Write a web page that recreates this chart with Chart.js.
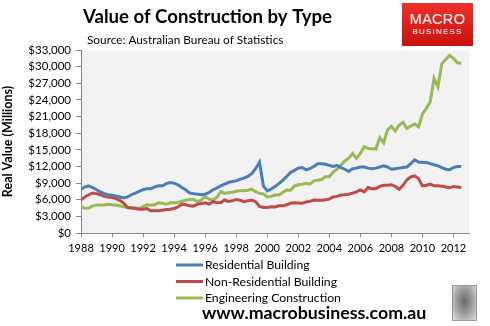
<!DOCTYPE html>
<html>
<head>
<meta charset="utf-8">
<title>Value of Construction by Type</title>
<script src="https://cdn.jsdelivr.net/npm/chart.js@4.4.0/dist/chart.umd.min.js"></script>
<style>
  body { margin: 0; background: #fff; }
  #wrap { position: relative; width: 490px; height: 326px; overflow: hidden; }
  #chart { position: absolute; left: 0; top: 0; }
  .logo {
    position: absolute; left: 402px; top: 3px; width: 71px; height: 43px;
    background: linear-gradient(#f0302a, #c8120f);
    color: #fff; font-family: "Liberation Sans", Arial, sans-serif; text-align: center;
  }
  .logo .l1 { display: block; font-size: 14.5px; line-height: 15px; margin-top: 9px; letter-spacing: 0.3px; }
  .logo .l2 { display: block; font-size: 8px; line-height: 10px; letter-spacing: 1.2px; }
  .wolf {
    position: absolute; left: 452px; top: 285px; width: 23px; height: 34px;
    border: 1px solid #9a9a9a;
    background: radial-gradient(ellipse at 50% 45%, #6a6a6a 0%, #9a9a9a 45%, #e0e0e0 100%);
  }
</style>
</head>
<body>
<div id="wrap">
  <canvas id="chart" width="490" height="326"></canvas>
  <div class="logo"><span class="l1">MACRO</span><span class="l2">BUSINESS</span></div>
  <div class="wolf"></div>
</div>
<script>
// quarterly series, first quarter = 1988, $ millions (real)
const startYear = 1988;

const residential = [
  7900, 8300, 8500, 8200,   // 1988
  7800, 7400, 7100, 6900,   // 1989
  6800, 6700, 6500, 6300,   // 1990
  6500, 6900, 7200, 7500,   // 1991
  7800, 8000, 8000, 8300,   // 1992
  8500, 8500, 8900, 9100,   // 1993
  9000, 8700, 8200, 7800,   // 1994
  7200, 7100, 7000, 6900,   // 1995
  7000, 7300, 7800, 8100,   // 1996
  8500, 8800, 9100, 9300,   // 1997
  9400, 9700, 9900, 10200,  // 1998
  10700, 11600, 12800, 8500, // 1999
  7600, 7900, 8400, 8900,   // 2000
  9500, 10200, 10900, 11300, // 2001
  11700, 11800, 11400, 11600, // 2002
  12000, 12500, 12500, 12400, // 2003
  12200, 12000, 12200, 11800, // 2004
  11500, 11100, 11600, 11700, // 2005
  11900, 11900, 11700, 11600, // 2006
  11700, 11900, 12100, 11900, // 2007
  11500, 11600, 11700, 11800, // 2008
  11900, 12500, 13200, 12800, // 2009
  12700, 12700, 12500, 12300, // 2010
  12100, 11800, 11500, 11400, // 2011
  11800, 12000, 12000         // 2012
];

const nonResidential = [
  6000, 6500, 6900, 7200,
  7100, 6900, 6600, 6500,
  6400, 6200, 5900, 5400,
  4600, 4500, 4400, 4300,
  4300, 4400, 4000, 4000,
  4000, 4100, 4250, 4300,
  4400, 4700, 5200, 5100,
  4900, 4850, 5200, 5300,
  5450, 5200, 5650, 5500,
  5450, 5950, 5700, 5800,
  6050, 5900, 5650, 5800,
  5950, 5650, 4800, 4600,
  4600, 4750, 4700, 4900,
  4900, 5100, 5350, 5450,
  5400, 5350, 5600, 5700,
  5950, 5900, 5900, 6000,
  6100, 6500, 6600, 6850,
  6900, 7000, 7200, 7400,
  7750, 7400, 8200, 8000,
  8000, 8400, 8600, 8600,
  8700, 8400, 7900, 8600,
  9600, 10100, 10300, 9800,
  8500, 8600, 8800, 8500,
  8500, 8450, 8300, 8150,
  8400, 8300, 8200
];

const engineering = [
  4750, 4450, 4500, 4900,
  5050, 5050, 5050, 5200,
  5100, 5000, 4900, 4750,
  4600, 4550, 4500, 4450,
  4750, 5100, 5000, 5100,
  5450, 5350, 5200, 5450,
  5450, 5500, 5750, 5900,
  6050, 6050, 5650, 5950,
  6550, 6100, 5950, 6400,
  7450, 7150, 7250, 7350,
  7550, 7600, 7600, 7700,
  7900, 7450, 7150, 7050,
  6500, 6600, 6850, 6850,
  7300, 7750, 7700, 8450,
  8700, 8800, 8950, 8800,
  9400, 9500, 9650, 10150,
  10150, 11000, 11500, 12250,
  13000, 13500, 14350, 13450,
  14350, 15550, 15250, 15200,
  15150, 17200, 16250, 18550,
  19250, 18400, 19450, 19950,
  18850, 19300, 19650, 19150,
  21450, 22500, 23650, 27900,
  26350, 30550, 31300, 32050,
  31500, 30700, 30600
];

const seriesNames = ['Residential Building', 'Non-Residential Building', 'Engineering Construction'];
const seriesColors = ['#4a7ebb', '#be4b48', '#98b954'];

const yTicks = { min: 0, max: 33000, step: 3000 };
const xTicks = { min: 1988, max: 2013, step: 2 };

const FONT = 'Lato, "Open Sans", sans-serif';

function toPoints(values) {
  return values.map((v, i) => ({ x: startYear + i / 4, y: v }));
}

// grey plot area + headings, legend and footer text
const decorations = {
  id: 'decorations',
  beforeDraw(chart) {
    const { ctx, chartArea: a } = chart;
    ctx.save();
    ctx.fillStyle = '#f2f2f2';
    ctx.fillRect(a.left, a.top, a.right - a.left, a.bottom - a.top);
    ctx.restore();
  },
  afterDraw(chart) {
    const ctx = chart.ctx;
    ctx.save();
    ctx.fillStyle = '#000';
    ctx.textBaseline = 'alphabetic';
    ctx.font = 'bold 18.6px ' + FONT;
    ctx.fillText('Value of Construction by Type', 83, 23);
    ctx.font = '11.8px ' + FONT;
    ctx.fillText('Source: Australian Bureau of Statistics', 87, 44);

    // legend, stacked
    ctx.font = '12.2px ' + FONT;
    ctx.textBaseline = 'middle';
    chart.data.datasets.forEach((ds, i) => {
      const y = 265 + i * 16.5;
      ctx.strokeStyle = ds.borderColor;
      ctx.lineWidth = 3;
      ctx.beginPath();
      ctx.moveTo(176, y);
      ctx.lineTo(203, y);
      ctx.stroke();
      ctx.fillStyle = '#000';
      ctx.fillText(ds.label, 205, y + 0.5);
    });

    ctx.font = 'bold 17.8px ' + FONT;
    ctx.fillText('www.macrobusiness.com.au', 202, 313);
    ctx.restore();
  }
};

const ctx = document.getElementById('chart').getContext('2d');
new Chart(ctx, {
  type: 'line',
  data: {
    datasets: [residential, nonResidential, engineering].map((vals, i) => ({
      label: seriesNames[i],
      data: toPoints(vals),
      borderColor: seriesColors[i],
      backgroundColor: seriesColors[i],
      borderWidth: 3,
      pointRadius: 0,
      tension: 0,
      fill: false
    }))
  },
  options: {
    responsive: false,
    animation: false,
    layout: { padding: { top: 50, right: 21, bottom: 70, left: 0 } },
    plugins: {
      legend: { display: false },
      tooltip: { enabled: false }
    },
    scales: {
      x: {
        type: 'linear',
        min: xTicks.min,
        max: xTicks.max,
        afterFit(scale) { scale.height = 23; },
        border: { color: '#868686' },
        grid: { drawOnChartArea: false, drawTicks: true, tickLength: 4, color: '#868686' },
        ticks: {
          stepSize: xTicks.step,
          includeBounds: false,
          maxRotation: 0,
          autoSkip: false,
          padding: 5,
          color: '#000',
          font: { family: FONT, size: 11 },
          callback: v => String(v)
        }
      },
      y: {
        min: yTicks.min,
        max: yTicks.max,
        afterFit(scale) { scale.width = 81; },
        border: { color: '#868686' },
        grid: { drawOnChartArea: false, drawTicks: true, tickLength: 5, color: '#868686' },
        title: {
          display: true,
          text: 'Real Value (Millions)',
          color: '#000',
          font: { family: FONT, size: 12.5, weight: 'bold' },
          padding: 0
        },
        ticks: {
          stepSize: yTicks.step,
          autoSkip: false,
          padding: 5,
          color: '#000',
          font: { family: FONT, size: 11.5 },
          callback: v => '$' + v.toLocaleString('en-US')
        }
      }
    }
  },
  plugins: [decorations]
});
</script>
</body>
</html>
